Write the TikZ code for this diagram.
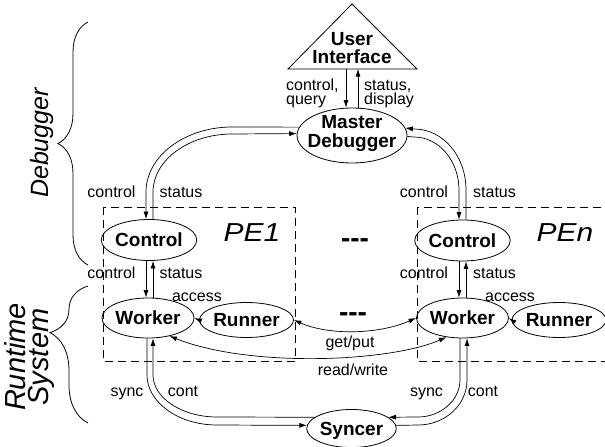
\documentclass[tikz,border=0pt]{standalone}
\usepackage{fontspec}
\setmainfont{Liberation Sans}
\usetikzlibrary{shapes.geometric,arrows.meta,decorations.pathreplacing}
\begin{document}
\begin{tikzpicture}[x=1pt,y=-1pt,
  bubble/.style={draw, ellipse, inner sep=0pt, line width=0.8pt,
    font=\fontsize{19}{19}\selectfont\bfseries, text height=13.6pt, text depth=0pt},
  btext/.style={font=\fontsize{19}{19}\selectfont\bfseries, anchor=base, inner sep=0pt},
  lbl/.style={font=\fontsize{16}{16}\selectfont, anchor=base, inner sep=0pt},
  lbll/.style={lbl, anchor=base west},
  arr/.style={-{Latex[length=7.5pt,width=5pt]}, line width=0.7pt},
  arrb/.style={{Latex[length=7.5pt,width=5pt]}-{Latex[length=7.5pt,width=5pt]}, line width=0.7pt},
  pebox/.style={draw, dash pattern=on 8pt off 5pt, line width=0.7pt},
  petext/.style={font=\fontsize{26}{26}\selectfont\itshape, inner sep=0pt},
  dots/.style={font=\fontsize{28}{28}\selectfont\bfseries, inner sep=0pt},
  side/.style={rotate=90, inner sep=0pt, align=center},
  brc/.style={decorate, line width=0.8pt}
]
\useasboundingbox (0,0) rectangle (605,447);

% user interface triangle
\draw[line width=0.8pt] (352,4) -- (417,69) -- (288,69) -- cycle;
\coordinate (ui) at (352,69);
\node[btext] (uit1) at (352,45) {User};
\node[btext] (uit2) at (352,63) {Interface};

% master debugger
\node[bubble, minimum width=110pt, minimum height=55pt] (md) at (352,135.5) {};
\node[btext] (mdt1) at (352,128) {Master};
\node[btext] (mdt2) at (352,147) {Debugger};

\draw[arr] ([xshift=-6pt]ui) -- ([xshift=-6pt]md.north);
\draw[arr] ([xshift=6pt]md.north) -- ([xshift=6pt]ui);
\node[lbll] (l1) at (286,90) {control,};
\node[lbll] (l2) at (286,104.5) {query};
\node[lbll] (l3) at (364,90) {status,};
\node[lbll] (l4) at (364,104.5) {display};

% PE boxes
\draw[pebox] (103,207) rectangle (295,361);
\draw[pebox] (417,207) rectangle (615,361);
\node[petext] (pe1) at (252,233) {\scalebox{1.15}[1]{PE1}};
\node[petext] (pen) at (565,233) {\scalebox{1.15}[1]{PEn}};
\node[dots] (d1) at (355,243) {-{}-{}-};
\node[dots] (d2) at (353,317) {-{}-{}-};

% nodes
\node[bubble, minimum width=84pt, minimum height=41pt] (c1) at (149,240) {Control};
\node[bubble, minimum width=82pt, minimum height=40pt] (w1) at (148,318) {Worker};
\node[bubble, minimum width=89pt, minimum height=35pt] (r1) at (246.5,320) {Runner};
\node[bubble, minimum width=83pt, minimum height=41pt] (cn) at (462.5,240.5) {Control};
\node[bubble, minimum width=83pt, minimum height=40pt] (wn) at (462.5,318) {Worker};
\node[bubble, minimum width=87pt, minimum height=35pt] (rn) at (559,320) {Runner};
\node[bubble, minimum width=85pt, minimum height=38pt] (sy) at (351.5,428.5) {Syncer};

% master <-> control 1
\draw[arr] (md.171) -- (232,127) .. controls (185,127) and (146,156) .. (146,192) -- ([xshift=-3pt]c1.north);
\draw[arr] ([xshift=4pt]c1.north) -- (153,192) .. controls (153,160) and (189,134) .. (232,134) -- (md.178);
% master <-> control n
\draw[arr] ([xshift=3.5pt]cn.north) -- (466,190) .. controls (466,156) and (443,129) .. (414,129) -- (md.8);
\draw[arr] (md.-1) -- (414,137) .. controls (439,137) and (459,161) .. (459,190) -- ([xshift=-3.5pt]cn.north);

% control <-> worker
\draw[arr] ([xshift=-3pt]c1.south) -- ([xshift=-2pt]w1.north);
\draw[arr] ([xshift=5pt]w1.north) -- ([xshift=4pt]c1.south);
\draw[arr] ([xshift=-3.5pt]cn.south) -- ([xshift=-3.5pt]wn.north);
\draw[arr] ([xshift=3.5pt]wn.north) -- ([xshift=3.5pt]cn.south);
\node[lbl] (lc1) at (111.5,197) {control};
\node[lbl] (ls1) at (181,197) {status};
\node[lbl] (lc2) at (111.5,278) {control};
\node[lbl] (ls2) at (181,278) {status};
\node[lbl] (lc3) at (424,197) {control};
\node[lbl] (ls3) at (494.5,197) {status};
\node[lbl] (lc4) at (424,278) {control};
\node[lbl] (ls4) at (494.5,278) {status};

% runner -> worker
\draw[arr] (r1.west) -- (w1.east);
\draw[arr] (rn.west) -- (wn.east);
\node[lbl] (la1) at (197,301) {access};
\node[lbl] (la2) at (510,301) {access};

% get/put, read/write
\draw[arrb] (r1.east) .. controls (330,336) and (380,334) .. (wn.west);
\node[lbl] (lgp) at (350,347) {get/put};
\draw[arrb] (w1.-40) .. controls (250,368) and (390,362) .. (wn.-130);
\node[lbl] (lrw) at (353,375) {read/write};

% sync / cont
\draw[arr] ([xshift=-1pt]w1.south) -- (147,375) .. controls (147,402) and (178,425) .. (217,425) -- (sy.176);
\draw[arr] (sy.163) -- (217,417) .. controls (182,417) and (153,398) .. (153,375) -- ([xshift=5pt]w1.south);
\draw[arr] ([xshift=-2.5pt]wn.south) -- (460,380) .. controls (460,400) and (441,417) .. (418,417) -- (sy.17);
\draw[arr] (sy.4) -- (418,425) .. controls (445,425) and (467,405) .. (467,380) -- ([xshift=4.5pt]wn.south);
\node[lbl] (ly1) at (127,396) {sync};
\node[lbl] (lo1) at (183,396) {cont};
\node[lbl] (ly2) at (426.5,396) {sync};
\node[lbl] (lo2) at (483,396) {cont};

% braces
\draw[brc, decoration={brace, amplitude=30pt}] (88,265) -- (88,22);
\draw[brc, decoration={brace, amplitude=38pt, aspect=0.66}] (88,423) -- (88,286);
\node[side, font=\fontsize{25}{25}\selectfont\itshape] (dbg) at (42,143) {Debugger};
\node[side, font=\fontsize{29}{23}\selectfont\itshape] (rts) at (30,357) {Runtime\\System};
\end{tikzpicture}
\end{document}
